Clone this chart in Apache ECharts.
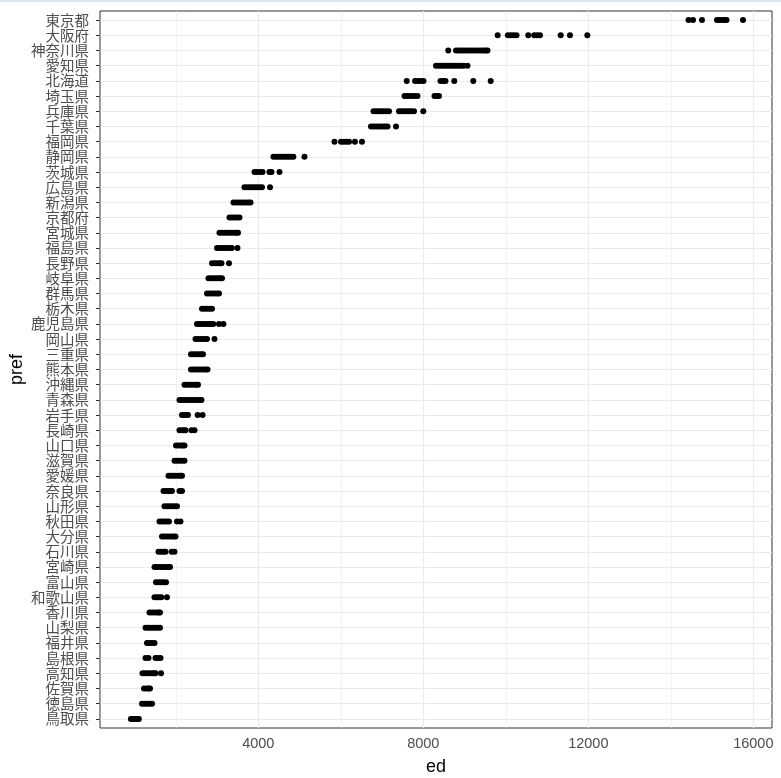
<!DOCTYPE html>
<html>
<head>
<meta charset="utf-8">
<script src="https://cdn.jsdelivr.net/npm/echarts@6/dist/echarts.min.js"></script>
<style>
html,body{margin:0;padding:0;background:#fff;}
#chart{width:781px;height:778px;}
</style>
</head>
<body>
<div id="chart"></div>
<script>
const prefs = ['東京都','大阪府','神奈川県','愛知県','北海道','埼玉県','兵庫県','千葉県','福岡県','静岡県','茨城県','広島県','新潟県','京都府','宮城県','福島県','長野県','岐阜県','群馬県','栃木県','鹿児島県','岡山県','三重県','熊本県','沖縄県','青森県','岩手県','長崎県','山口県','滋賀県','愛媛県','奈良県','山形県','秋田県','大分県','石川県','宮崎県','富山県','和歌山県','香川県','山梨県','福井県','島根県','高知県','佐賀県','徳島県','鳥取県'];

const edByPref = [
  [14429, 14538, 14756, 15120, 15180, 15240, 15300, 15350, 15750],
  [9803, 10050, 10120, 10190, 10260, 10545, 10690, 10760, 10829, 11331, 11556, 11976],
  [8606, 8793, 8850, 8910, 8970, 9030, 9090, 9150, 9210, 9277, 9340, 9400, 9460, 9510, 9556],
  [8308, 8370, 8430, 8490, 8550, 8610, 8670, 8730, 8790, 8850, 8914, 8980, 9071],
  [7598, 7800, 7870, 7940, 8005, 8417, 8480, 8538, 8751, 9212, 9634],
  [7544, 7600, 7660, 7720, 7790, 7859, 8271, 8330, 8381],
  [6793, 6850, 6910, 6970, 7030, 7100, 7169, 7411, 7470, 7530, 7590, 7650, 7710, 7774, 8000],
  [6732, 6790, 6850, 6910, 6970, 7030, 7080, 7132, 7338],
  [5847, 6005, 6070, 6135, 6200, 6343, 6513],
  [4368, 4430, 4490, 4550, 4610, 4670, 4730, 4790, 4850, 5120],
  [3908, 3970, 4040, 4102, 4270, 4320, 4514],
  [3665, 3725, 3790, 3850, 3910, 3970, 4030, 4090, 4284],
  [3399, 3460, 3520, 3580, 3640, 3700, 3760, 3811],
  [3302, 3360, 3420, 3480, 3544],
  [3059, 3120, 3180, 3240, 3300, 3360, 3420, 3470, 3508],
  [2999, 3060, 3120, 3180, 3240, 3300, 3360, 3496],
  [2878, 2940, 3000, 3060, 3108, 3290],
  [2793, 2850, 2910, 2970, 3030, 3080, 3120],
  [2757, 2820, 2880, 2940, 3000, 3047],
  [2635, 2695, 2755, 2815, 2878],
  [2514, 2570, 2630, 2690, 2750, 2810, 2849, 2909, 3047, 3156],
  [2478, 2540, 2600, 2660, 2720, 2757, 2938],
  [2369, 2430, 2490, 2550, 2610, 2660],
  [2369, 2430, 2490, 2550, 2610, 2670, 2730, 2769],
  [2211, 2270, 2330, 2390, 2450, 2500, 2538],
  [2090, 2150, 2210, 2270, 2330, 2390, 2450, 2510, 2570, 2623],
  [2150, 2210, 2270, 2296, 2530, 2650],
  [2090, 2150, 2200, 2235, 2381, 2454],
  [2005, 2060, 2120, 2170, 2211],
  [1969, 2030, 2090, 2150, 2211],
  [1823, 1880, 1940, 2000, 2060, 2110, 2151],
  [1702, 1760, 1820, 1870, 1908, 2090, 2151],
  [1726, 1790, 1850, 1910, 1970, 2029],
  [1605, 1660, 1720, 1780, 1835, 2030, 2114],
  [1666, 1720, 1780, 1840, 1900, 1950, 1993],
  [1581, 1640, 1700, 1751, 1900, 1969],
  [1484, 1540, 1600, 1660, 1720, 1780, 1830, 1860],
  [1520, 1580, 1640, 1700, 1763],
  [1484, 1540, 1600, 1650, 1787],
  [1363, 1420, 1480, 1540, 1590, 1617],
  [1266, 1320, 1380, 1440, 1500, 1560, 1617],
  [1302, 1360, 1420, 1484],
  [1266, 1339, 1508, 1570, 1629],
  [1193, 1250, 1310, 1370, 1430, 1480, 1508, 1642],
  [1230, 1290, 1340, 1375],
  [1181, 1240, 1300, 1360, 1424],
  [911, 970, 1030, 1080, 1105]
];

const xTicks = [4000, 8000, 12000, 16000];
const xMinor = [2000, 6000, 10000, 14000];

const points = [];
edByPref.forEach((vals, i) => vals.forEach(v => points.push([v, i])));
const rowIdx = prefs.map((p, i) => i);

const gridColor = '#ebebeb';
const markData = []
  .concat(xMinor.map(v => ({xAxis: v, lineStyle: {color: gridColor, width: 0.6, type: 'solid'}})))
  .concat(xTicks.map(v => ({xAxis: v, lineStyle: {color: gridColor, width: 1.1, type: 'solid'}})))
  .concat(rowIdx.map(i => ({yAxis: i, lineStyle: {color: gridColor, width: 1.1, type: 'solid'}})));

const chart = echarts.init(document.getElementById('chart'), null, {renderer: 'canvas'});
chart.setOption({
  animation: false,
  backgroundColor: '#ffffff',
  textStyle: {fontFamily: 'Liberation Sans, Arial, "Noto Sans CJK JP", sans-serif'},
  graphic: [{
    type: 'rect', left: 0, top: 0, z: 100,
    shape: {width: 781, height: 2},
    style: {fill: '#dce6f2'}
  }],
  grid: {
    left: 100, top: 11, right: 9, bottom: 50,
    containLabel: false, outerBoundsMode: 'none',
    show: true, borderColor: '#333333', borderWidth: 1, backgroundColor: '#ffffff'
  },
  xAxis: {
    type: 'value', min: 163, max: 16453,
    name: 'ed', nameLocation: 'middle', nameGap: 30, nameMoveOverlap: false,
    nameTextStyle: {fontSize: 18, color: '#000000', fontFamily: 'Liberation Sans, Arial, sans-serif'},
    axisLine: {show: false},
    axisTick: {show: true, length: 4, customValues: xTicks, lineStyle: {color: '#333333', width: 1}},
    axisLabel: {customValues: xTicks, fontSize: 14.5, color: '#4d4d4d', margin: 8,
      fontFamily: 'Liberation Sans, Arial, sans-serif', formatter: v => String(v)},
    splitLine: {show: false}, minorSplitLine: {show: false}
  },
  yAxis: {
    type: 'value', min: -0.6, max: 46.6, inverse: true,
    name: 'pref', nameLocation: 'middle', nameGap: 74, nameRotate: 90, nameMoveOverlap: false,
    nameTextStyle: {fontSize: 18, color: '#000000', fontFamily: 'Liberation Sans, Arial, sans-serif'},
    axisLine: {show: false},
    axisTick: {show: true, length: 4, customValues: rowIdx, lineStyle: {color: '#333333', width: 1}},
    axisLabel: {customValues: rowIdx, fontSize: 14.5, color: '#4d4d4d', margin: 11,
      fontFamily: '"Noto Sans CJK JP", sans-serif',
      formatter: v => prefs[Math.round(v)]},
    splitLine: {show: false}
  },
  series: [
    {
      type: 'scatter', data: [], z: 1, silent: true,
      markLine: {z: 1, silent: true, symbol: ['none', 'none'], label: {show: false},
        emphasis: {disabled: true}, animation: false, data: markData}
    },
    {
      type: 'scatter', data: points, z: 10, symbol: 'circle', symbolSize: 6,
      itemStyle: {color: '#000000', opacity: 1}, silent: true
    }
  ]
});
</script>
</body>
</html>
